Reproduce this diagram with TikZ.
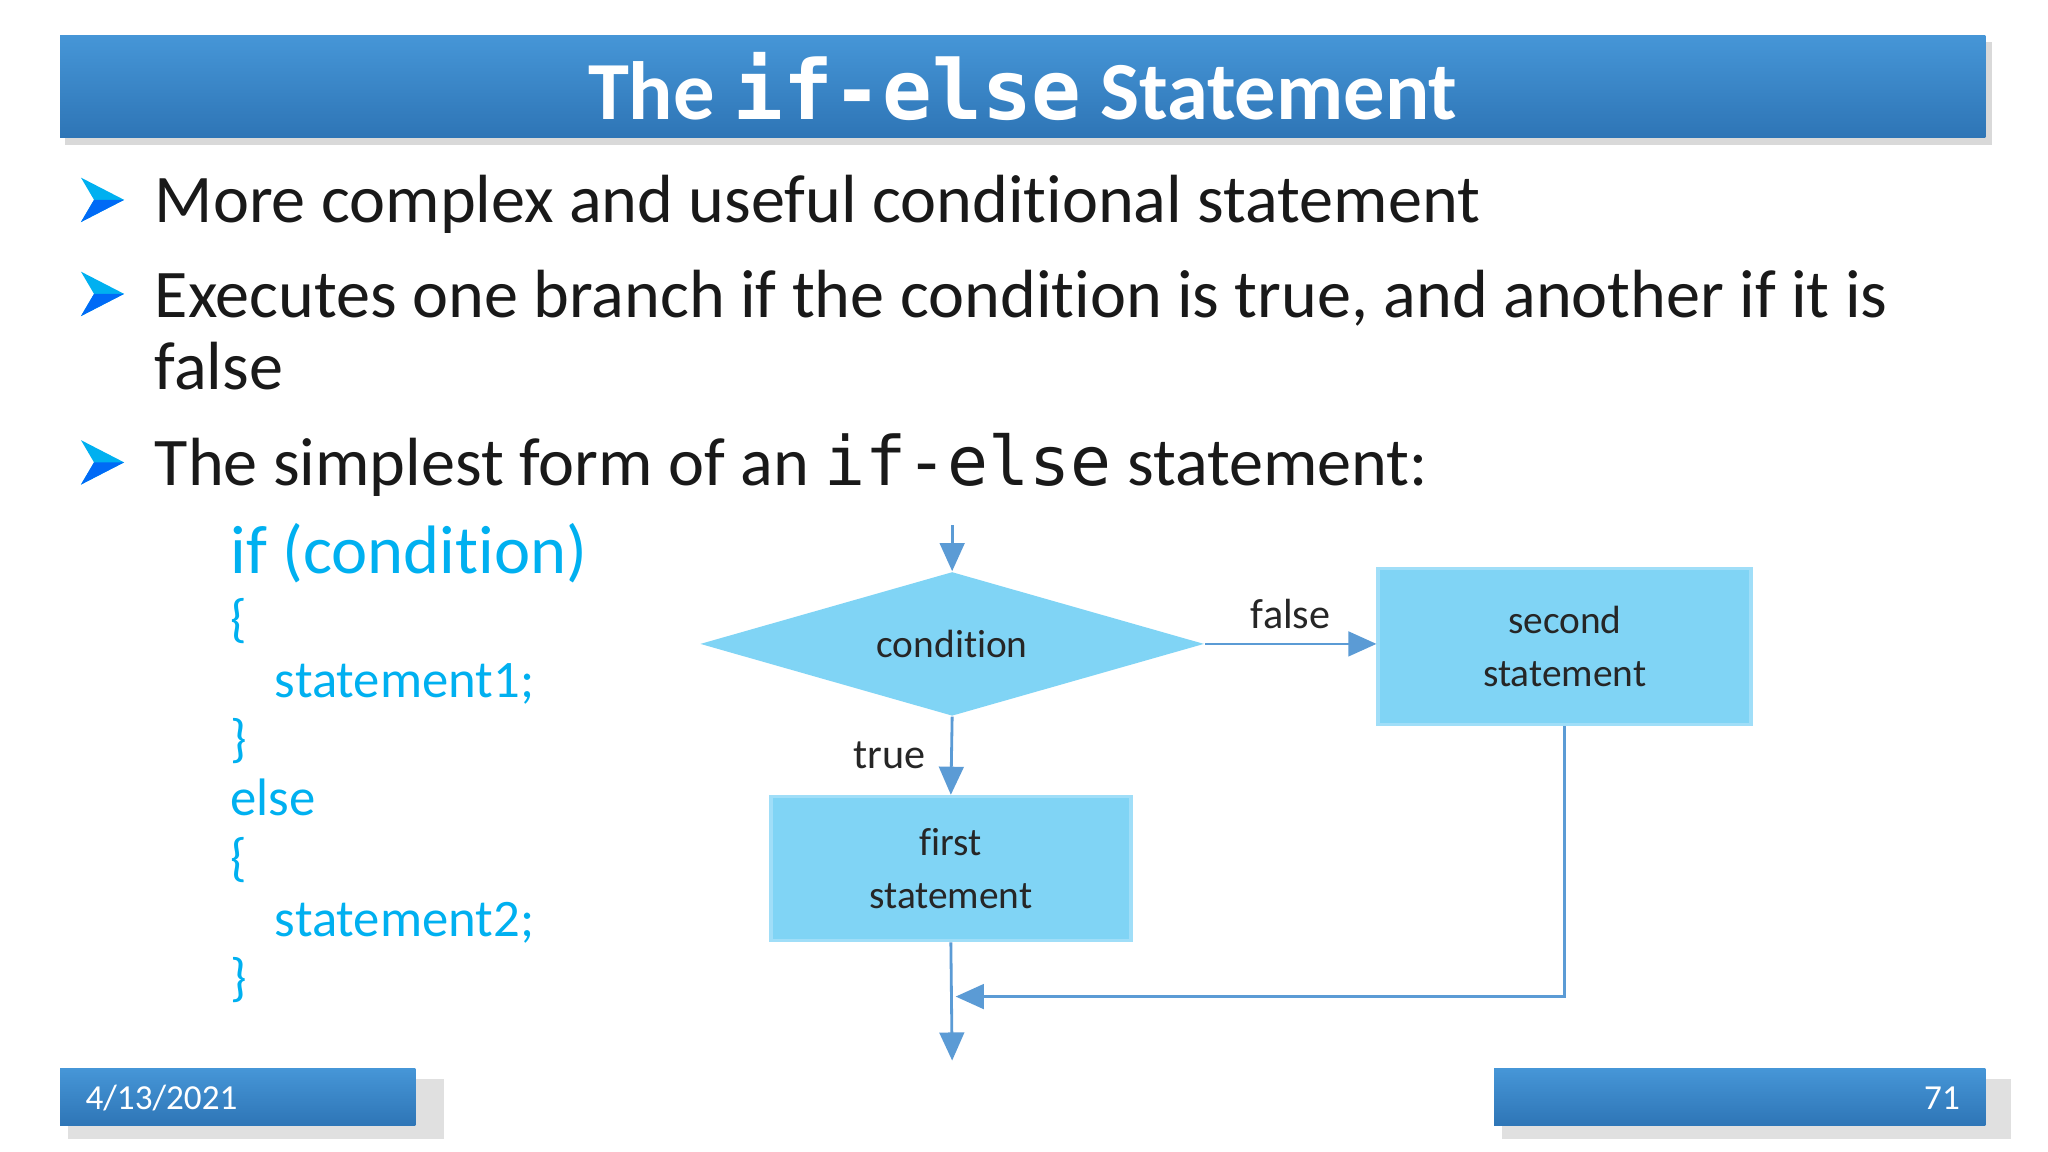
\documentclass[tikz,border=0pt]{standalone}
\usepackage{fontspec}
\setmainfont[Ligatures=NoCommon]{Carlito}
\setmonofont{DejaVu Sans Mono}
\usetikzlibrary{shapes.geometric,arrows.meta}
\definecolor{barblue}{RGB}{46,117,182}
\definecolor{barlight}{RGB}{70,150,215}
\definecolor{cyanc}{RGB}{0,176,240}
\definecolor{boxfill}{RGB}{128,212,245}
\definecolor{boxedge}{RGB}{160,222,248}
\definecolor{linec}{RGB}{91,155,213}
\tikzset{
 bar/.style={top color=barlight,bottom color=barblue,draw=none},
 flowbox/.style={fill=boxfill,draw=boxedge,line width=1pt,align=center,font=\fontsize{11.2}{15}\selectfont,text=black!85},
 conn/.style={draw=linec,line width=0.8pt,-{Triangle[length=8pt,width=7pt]}},
 bullettext/.style={anchor=base west,inner sep=0,font=\fontsize{19.4}{23}\selectfont,text=black!90},
 code/.style={anchor=base west,inner sep=0,text=cyanc},
 lbl/.style={font=\fontsize{12}{14}\selectfont,text=black!85,inner sep=1pt}
}
\newcommand{\bulletarrow}[2]{%
 \fill[cyanc] (#1,#2-17) -- (#1+33,#2) -- (#1,#2+17) -- (#1+10,#2) -- cycle;
 \fill[cyanc!60!blue] (#1+10,#2) -- (#1+33,#2) -- (#1,#2+17) -- cycle;}
\begin{document}
\begin{tikzpicture}[x=0.01306cm,y=-0.01306cm]
\useasboundingbox (0,0) rectangle (1568,882);
\fill[white] (0,0) rectangle (1568,882);
% title
\fill[black!15] (50,32) rectangle (1525,111);
\fill[bar] (46,27) rectangle (1520,105);
\node[text=white,font=\fontsize{23.5}{28}\selectfont\bfseries] (title) at (783,66) {The \texttt{if-else} Statement};
% bullets
\bulletarrow{62}{153}
\bulletarrow{62}{225}
\bulletarrow{62}{354}
\node[bullettext] (b1) at (118,170) {More complex and useful conditional statement};
\node[bullettext] (b2) at (118,243) {Executes one branch if the condition is true, and another if it is};
\node[bullettext] (b2b) at (118,298) {false};
\node[bullettext] (b3) at (118,372) {The simplest form of an \texttt{if-else} statement:};
% code
\node[code,font=\fontsize{19.5}{23}\selectfont] (c1) at (176,439) {if (condition)};
\node[code,font=\fontsize{15}{18}\selectfont] (c2) at (176,487) {\{};
\node[code,font=\fontsize{15}{18}\selectfont] (c3) at (210,534) {statement1;};
\node[code,font=\fontsize{15}{18}\selectfont] (c4) at (176,579) {\}};
\node[code,font=\fontsize{15}{18}\selectfont] (c5) at (176,624) {else};
\node[code,font=\fontsize{15}{18}\selectfont] (c6) at (176,670) {\{};
\node[code,font=\fontsize{15}{18}\selectfont] (c7) at (210,717) {statement2;};
\node[code,font=\fontsize{15}{18}\selectfont] (c8) at (176,762) {\}};
% flowchart
\node[diamond,fill=boxfill,inner sep=0,minimum width=5.04cm,minimum height=1.44cm,aspect=3.5,font=\fontsize{11.2}{14}\selectfont,text=black!85] (cond) at (729,493) {condition};
\node[flowbox,minimum width=3.6cm,minimum height=1.44cm] (first) at (728,665) {first\\statement};
\node[flowbox,minimum width=3.73cm,minimum height=1.56cm] (second) at (1198,495) {second\\statement};
\coordinate (top) at (729,402);
\coordinate (join) at (729,763);
\coordinate (bend) at (1198,763);
\coordinate (end) at (729,812);
\draw[conn] (top) -- (cond.north);
\draw[conn] (cond.east) -- (second.west |- cond.east) node[lbl,midway,above=3pt] (fl) {false};
\draw[conn] (cond.south) -- (first.north) node[lbl,midway,left=6pt] (tl) {true};
\draw[conn] (first.south) -- (end);
\draw[conn] (second.south) -- (bend) -- ([xshift=1pt]join);
% footer
\fill[black!12] (52,826) rectangle (340,872);
\fill[bar] (46,818) rectangle (318,862);
\node[anchor=west,text=white,font=\fontsize{10}{12}\selectfont] (date) at (56,841) {4/13/2021};
\fill[black!12] (1150,826) rectangle (1540,872);
\fill[bar] (1144,818) rectangle (1520,862);
\node[anchor=east,text=white,font=\fontsize{10}{12}\selectfont] (pg) at (1510,841) {71};
\end{tikzpicture}
\end{document}
